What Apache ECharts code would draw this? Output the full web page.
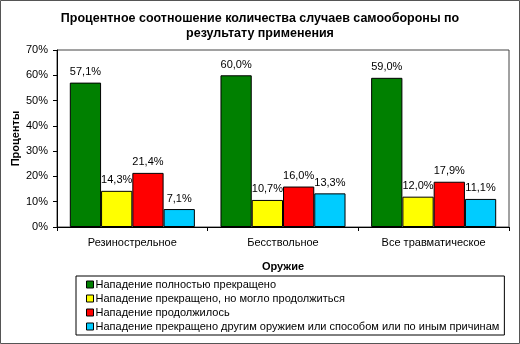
<!DOCTYPE html>
<html><head><meta charset="utf-8">
<script src="https://cdn.jsdelivr.net/npm/echarts@6/dist/echarts.min.js"></script>
<style>html,body{margin:0;padding:0;background:#fff}#c{width:520px;height:344px}</style>
</head><body><div id="c"></div>
<script>
const categories = ['Резиностр\u0435льное','Бесствольное','Все травматическое'];
const seriesNames = [
  'Нападение полностью прекращено',
  'Нападение прекращено, но могло продолжиться',
  'Нападение продолжилось',
  'Нападение прекращено другим оружием или способом или по иным причинам'
];
const stopped = [57.1, 60.0, 59.0];
const stoppedCouldContinue = [14.3, 10.7, 12.0];
const continued = [21.4, 16.0, 17.9];
const otherMeans = [7.1, 13.3, 11.1];
const colors = ['#008000','#FFFF00','#FF0000','#00CCFF'];
const yTicks = [0,10,20,30,40,50,60,70];

const font = 'Liberation Sans, Arial, sans-serif';
const values = [stopped, stoppedCouldContinue, continued, otherMeans];
const chart = echarts.init(document.getElementById('c'), null, {renderer:'canvas'});
chart.setOption({
  animation:false,
  backgroundColor:'#fff',
  textStyle:{fontFamily:font},
  title:{
    text:'Процентное соотношение количества случаев самообороны по\nрезультату применения',
    left:'center', top:6,
    textStyle:{fontFamily:font,fontWeight:'bold',fontSize:12.5,color:'#000',lineHeight:15}
  },
  graphic:[{type:'rect',shape:{x:0.5,y:0.5,width:519,height:343},style:{fill:'none',stroke:'#555',lineWidth:1},silent:true}],
  grid:{left:57,right:11,top:50,bottom:117,show:true,borderColor:'#444',borderWidth:1,backgroundColor:'#fff',containLabel:false,outerBoundsMode:'none'},
  legend:{
    orient:'vertical', left:76, top:276,
    icon:'rect', itemWidth:7, itemHeight:7, itemGap:3,
    padding:[3,5,3,10],
    borderColor:'#000', borderWidth:1,
    textStyle:{fontFamily:font,fontSize:11,color:'#000',padding:[0,0,0,-3]},
    itemStyle:{borderColor:'#000',borderWidth:1},
    data:seriesNames
  },
  xAxis:{
    type:'category', data:categories,
    name:'Оружие', nameLocation:'middle', nameGap:34,
    nameTextStyle:{fontFamily:font,fontWeight:'bold',fontSize:11,color:'#000'},
    axisLine:{lineStyle:{color:'#000'}},
    axisTick:{show:true,length:4,lineStyle:{color:'#000'}},
    axisLabel:{fontFamily:font,fontSize:11,color:'#000',margin:10}
  },
  yAxis:{
    type:'value', min:0, max:70, interval:10,
    name:'Проценты', nameLocation:'middle', nameGap:36, nameMoveOverlap:false,
    nameTextStyle:{fontFamily:font,fontWeight:'bold',fontSize:11,color:'#000'},
    axisLine:{show:true,lineStyle:{color:'#000'}},
    axisTick:{show:true,length:4,lineStyle:{color:'#000'}},
    splitLine:{show:false},
    axisLabel:{fontFamily:font,fontSize:11,color:'#000',margin:9,formatter:v=>v+'%'}
  },
  series: seriesNames.map((n,i)=>({
    name:n, type:'bar', data:values[i],
    barGap:'0%', barCategoryGap:'17%',
    itemStyle:{color:colors[i],borderColor:'#000',borderWidth:1},
    label:{show:true,position:'top',distance:5,fontFamily:font,fontSize:11,color:'#000',
      formatter:p=>p.value.toFixed(1).replace('.',',')+'%'}
  }))
});
</script></body></html>
